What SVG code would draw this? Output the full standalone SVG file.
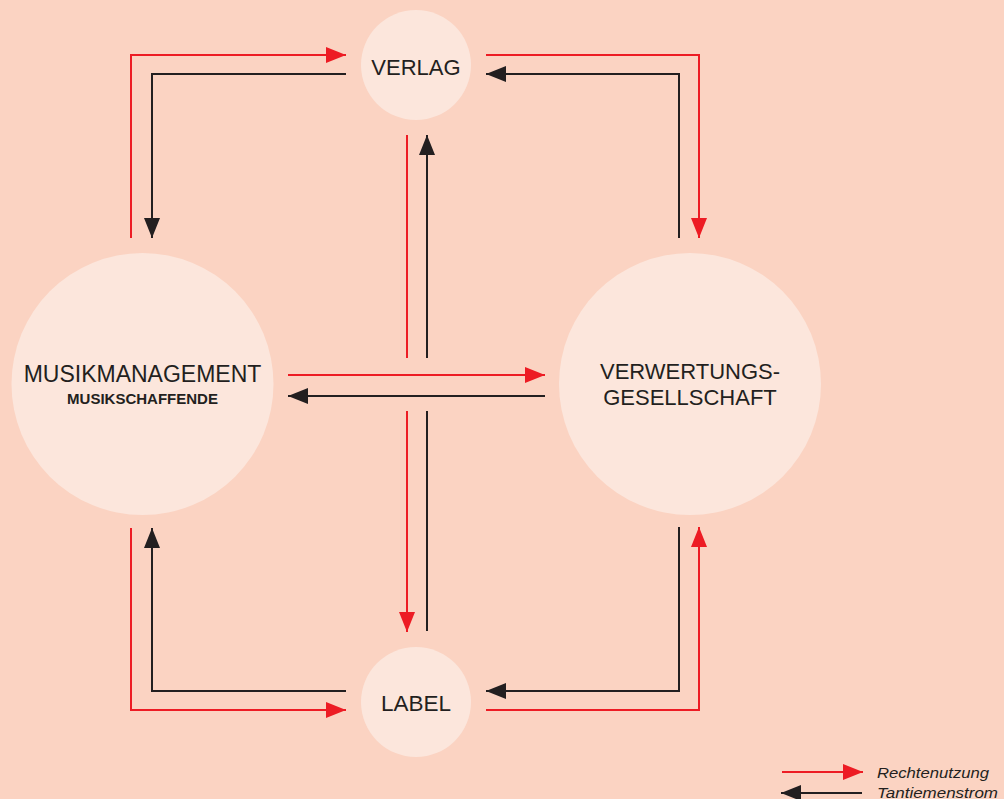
<svg xmlns="http://www.w3.org/2000/svg" width="1004" height="799" viewBox="0 0 1004 799">
<style>
.bg{fill:#FBD3C2}
.node{fill:#FCE6DC}
.t{font-family:"Liberation Sans",Arial,sans-serif;fill:#231F20;text-anchor:middle}
.lg{font-family:"Liberation Sans",Arial,sans-serif;font-style:italic;fill:#231F20;font-size:14.5px}
.r{fill:none;stroke:#ED1C24;stroke-width:2}
.k{fill:none;stroke:#231F20;stroke-width:2}
</style>
<defs>
<marker id="ar" markerUnits="userSpaceOnUse" markerWidth="20" markerHeight="16" refX="20" refY="8" orient="auto"><path d="M0,0 L20,8 L0,16 z" fill="#ED1C24"/></marker>
<marker id="ak" markerUnits="userSpaceOnUse" markerWidth="20" markerHeight="16" refX="20" refY="8" orient="auto"><path d="M0,0 L20,8 L0,16 z" fill="#231F20"/></marker>
</defs>
<rect class="bg" x="0" y="0" width="1004" height="799"/>
<g id="verlag"><circle class="node" cx="416" cy="65" r="55"/><text class="t" x="416" y="75" font-size="22">VERLAG</text></g>
<g id="label"><circle class="node" cx="416" cy="702" r="55"/><text class="t" x="416" y="711" font-size="22.5">LABEL</text></g>
<g id="musikmanagement"><circle class="node" cx="142.5" cy="384" r="131"/><text class="t" x="142.5" y="382" font-size="23">MUSIKMANAGEMENT</text><text class="t" x="142.5" y="404" font-size="15" font-weight="bold">MUSIKSCHAFFENDE</text></g>
<g id="verwertungsgesellschaft"><circle class="node" cx="690" cy="384" r="131"/><text class="t" x="690" y="379" font-size="22">VERWERTUNGS-</text><text class="t" x="690" y="405" font-size="22">GESELLSCHAFT</text></g>
<g id="connectors">
<path class="r" d="M131,238 V55 H346" marker-end="url(#ar)"/>
<path class="r" d="M486,55 H699 V238" marker-end="url(#ar)"/>
<path class="r" d="M407,135 V358"/>
<path class="r" d="M288,375 H545" marker-end="url(#ar)"/>
<path class="r" d="M407,411 V632" marker-end="url(#ar)"/>
<path class="r" d="M131,528 V710 H346" marker-end="url(#ar)"/>
<path class="r" d="M486,710 H699 V527" marker-end="url(#ar)"/>
<path class="k" d="M346,74 H152 V238" marker-end="url(#ak)"/>
<path class="k" d="M679,238 V74 H486" marker-end="url(#ak)"/>
<path class="k" d="M427,358 V135" marker-end="url(#ak)"/>
<path class="k" d="M545,396 H288" marker-end="url(#ak)"/>
<path class="k" d="M427,411 V631"/>
<path class="k" d="M346,691 H152 V528" marker-end="url(#ak)"/>
<path class="k" d="M679,527 V691 H486" marker-end="url(#ak)"/>
</g>
<g id="legend">
<path class="r" d="M782,772 H863" marker-end="url(#ar)"/>
<path class="k" d="M862,793 H781" marker-end="url(#ak)"/>
<text class="lg" x="877" y="778" textLength="112" lengthAdjust="spacingAndGlyphs">Rechtenutzung</text>
<text class="lg" x="877" y="798" textLength="121" lengthAdjust="spacingAndGlyphs">Tantiemenstrom</text>
</g>
</svg>
